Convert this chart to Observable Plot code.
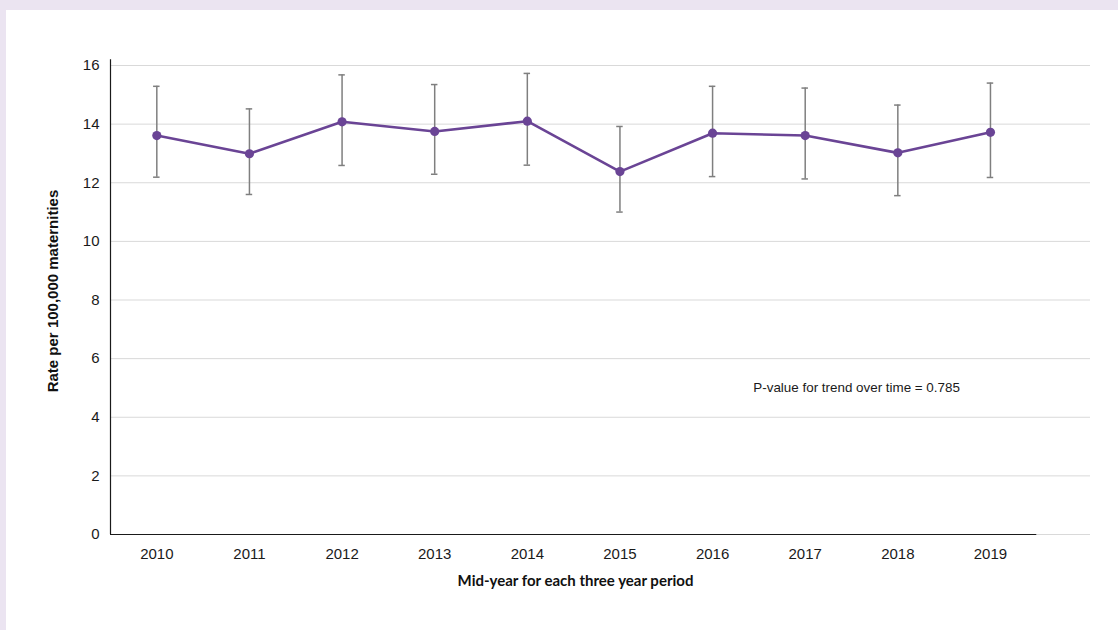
<!DOCTYPE html>
<html>
<head>
<meta charset="utf-8">
<script src="https://cdn.jsdelivr.net/npm/d3@7"></script>
<script src="https://cdn.jsdelivr.net/npm/@observablehq/plot@0.6"></script>
<style>
  html, body { margin: 0; padding: 0; }
  body { width: 1118px; height: 630px; background: #ebe4f1; position: relative; overflow: hidden; }
  #panel { position: absolute; left: 6px; top: 10px; width: 1200px; height: 700px; background: #ffffff; }
  #chart { position: absolute; left: 0; top: 0; }
</style>
</head>
<body>
<div id="panel"></div>
<div id="chart"></div>
<script>
const years = [2010, 2011, 2012, 2013, 2014, 2015, 2016, 2017, 2018, 2019];
const rates = [13.61, 12.99, 14.08, 13.75, 14.10, 12.38, 13.69, 13.61, 13.02, 13.72];
const lower = [12.19, 11.60, 12.59, 12.29, 12.60, 11.00, 12.21, 12.13, 11.56, 12.18];
const upper = [15.29, 14.52, 15.68, 15.35, 15.73, 13.92, 15.29, 15.23, 14.65, 15.40];
const yTicks = [0, 2, 4, 6, 8, 10, 12, 14, 16];
const yTitle = "Rate per 100,000 maternities";
const xTitle = "Mid-year for each three year period";
const note = ["P-value for trend over time = 0.785"];
const noteAt = {x: 2016.44, y: 5.02};

const data = years.map((yr, i) => ({year: yr, rate: rates[i], lo: lower[i], hi: upper[i]}));
const capHalf = 0.035;
const xMin = years[0] - 0.5, xMaxAxis = years[years.length - 1] + 0.5;

const purple = "#6a4495";
const gray = "#7f7f7f";

const chart = Plot.plot({
  width: 1118,
  height: 630,
  marginLeft: 110,
  marginRight: 28,
  marginTop: 65,
  marginBottom: 96,
  style: {background: "transparent", fontFamily: "'Liberation Sans', Arial, sans-serif", fontSize: "15px", color: "#1a1a1a"},
  x: {type: "linear", domain: [xMin, 2020.08]},
  y: {domain: [0, 16]},
  marks: [
    Plot.gridY(yTicks, {stroke: "#d9d9d9", strokeOpacity: 1, strokeWidth: 1}),
    Plot.axisY(yTicks, {tickSize: 0, tickPadding: 11, label: null, fontSize: 15}),
    Plot.axisX(years, {tickSize: 0, tickPadding: 14, tickFormat: "d", label: null, fontSize: 15}),
    Plot.ruleY([0], {x1: xMin, x2: xMaxAxis, stroke: "#1a1a1a", strokeWidth: 1.2}),
    Plot.ruleX([xMin], {y1: 0, y2: 16.2, stroke: "#1a1a1a", strokeWidth: 1.2}),
    Plot.ruleX(data, {x: "year", y1: "lo", y2: "hi", stroke: gray, strokeWidth: 1.5}),
    Plot.ruleY(data, {y: "hi", x1: d => d.year - capHalf, x2: d => d.year + capHalf, stroke: gray, strokeWidth: 1.5}),
    Plot.ruleY(data, {y: "lo", x1: d => d.year - capHalf, x2: d => d.year + capHalf, stroke: gray, strokeWidth: 1.5}),
    Plot.line(data, {x: "year", y: "rate", stroke: purple, strokeWidth: 2.6}),
    Plot.dot(data, {x: "year", y: "rate", r: 4.6, fill: purple, stroke: "none"}),
    Plot.text(note, {x: () => noteAt.x, y: () => noteAt.y, textAnchor: "start", fontSize: 13.4, fill: "#1a1a1a"}),
    Plot.text([yTitle], {frameAnchor: "left", textAnchor: "middle", rotate: -90, dx: -57, dy: -9, fontWeight: "bold", fontSize: 15, fill: "#111"}),
    Plot.text([xTitle], {frameAnchor: "bottom", textAnchor: "middle", dx: -25, dy: 51, fontWeight: "bold", fontSize: 15, fontFamily: "Lato, 'Open Sans', sans-serif", fill: "#111"})
  ]
});
document.getElementById("chart").appendChild(chart);
</script>
</body>
</html>
